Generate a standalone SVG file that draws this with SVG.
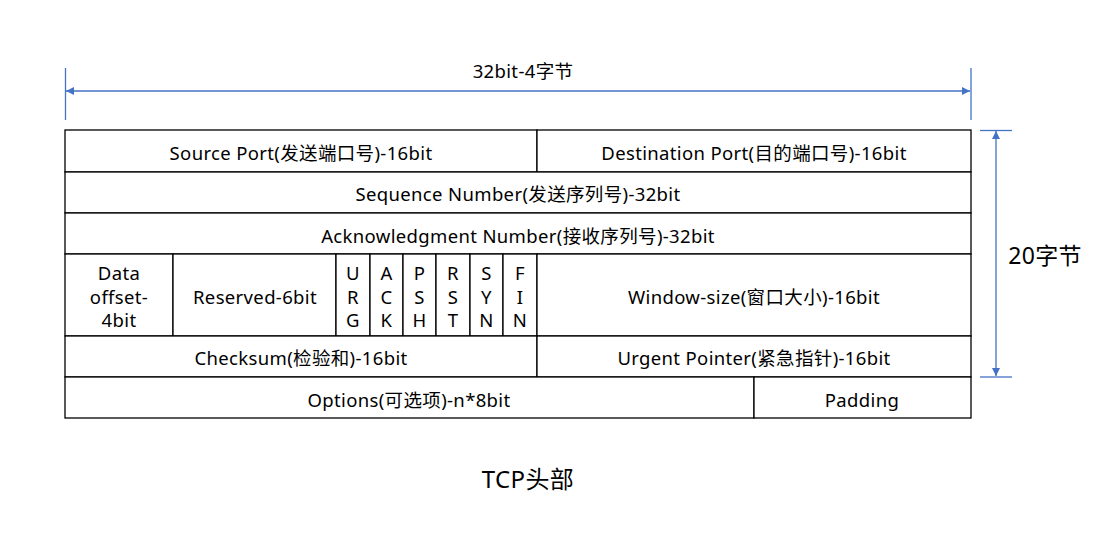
<svg xmlns="http://www.w3.org/2000/svg" width="1117" height="543" viewBox="0 0 1117 543">
<style>
text{font-family:"Noto Sans","Noto Sans CJK SC",sans-serif;font-size:18.5px;letter-spacing:0.35px;fill:#000;text-anchor:middle;dominant-baseline:central}
.cell{fill:#fff;stroke:#000;stroke-width:1.3}
.dim{stroke:#4472C4;stroke-width:1.3;fill:none}
</style>
<defs>
<marker id="ah" viewBox="0 0 10 10" refX="10" refY="5" markerWidth="8" markerHeight="8" orient="auto-start-reverse" markerUnits="userSpaceOnUse"><path d="M0,0 L10,5 L0,10 Z" fill="#4472C4"/></marker>
</defs>
<g id="connectors">
<line class="dim" x1="65.5" y1="68" x2="65.5" y2="120"/>
<line class="dim" x1="971" y1="68" x2="971" y2="120"/>
<line class="dim" x1="66" y1="91" x2="970" y2="91" marker-start="url(#ah)" marker-end="url(#ah)"/>
<line class="dim" x1="980" y1="130.5" x2="1012" y2="130.5"/>
<line class="dim" x1="980" y1="377" x2="1012" y2="377"/>
<line class="dim" x1="996" y1="131" x2="996" y2="376" marker-start="url(#ah)" marker-end="url(#ah)"/>
</g>
<g id="label-width"><text x="523" y="70">32bit-4字节</text></g>
<g id="label-height"><text x="1045" y="255" style="font-size:23px">20字节</text></g>
<g id="source-port"><rect class="cell" x="65" y="130" width="472" height="42"/><text x="301" y="152">Source Port(发送端口号)-16bit</text></g>
<g id="dest-port"><rect class="cell" x="537" y="130" width="434" height="42"/><text x="754" y="152">Destination Port(目的端口号)-16bit</text></g>
<g id="seq"><rect class="cell" x="65" y="172" width="906" height="41"/><text x="518" y="193">Sequence Number(发送序列号)-32bit</text></g>
<g id="ack"><rect class="cell" x="65" y="213" width="906" height="41"/><text x="518" y="235">Acknowledgment Number(接收序列号)-32bit</text></g>
<g id="data-offset"><rect class="cell" x="65" y="254" width="108" height="82"/><text x="119" y="272">Data</text><text x="119" y="296">offset-</text><text x="119" y="319">4bit</text></g>
<g id="reserved"><rect class="cell" x="173" y="254" width="163" height="82"/><text x="255" y="296">Reserved-6bit</text></g>
<g id="urg"><rect class="cell" x="336" y="254" width="34" height="82"/><text x="353" y="272">U</text><text x="353" y="296">R</text><text x="353" y="319">G</text></g>
<g id="ackf"><rect class="cell" x="370" y="254" width="33" height="82"/><text x="386.5" y="272">A</text><text x="386.5" y="296">C</text><text x="386.5" y="319">K</text></g>
<g id="psh"><rect class="cell" x="403" y="254" width="33" height="82"/><text x="419.5" y="272">P</text><text x="419.5" y="296">S</text><text x="419.5" y="319">H</text></g>
<g id="rst"><rect class="cell" x="436" y="254" width="34" height="82"/><text x="453" y="272">R</text><text x="453" y="296">S</text><text x="453" y="319">T</text></g>
<g id="syn"><rect class="cell" x="470" y="254" width="33" height="82"/><text x="486.5" y="272">S</text><text x="486.5" y="296">Y</text><text x="486.5" y="319">N</text></g>
<g id="fin"><rect class="cell" x="503" y="254" width="34" height="82"/><text x="520" y="272">F</text><text x="520" y="296">I</text><text x="520" y="319">N</text></g>
<g id="window"><rect class="cell" x="537" y="254" width="434" height="82"/><text x="754" y="296">Window-size(窗口大小)-16bit</text></g>
<g id="checksum"><rect class="cell" x="65" y="336" width="472" height="41"/><text x="301" y="357">Checksum(检验和)-16bit</text></g>
<g id="urgent"><rect class="cell" x="537" y="336" width="434" height="41"/><text x="754" y="357">Urgent Pointer(紧急指针)-16bit</text></g>
<g id="options"><rect class="cell" x="65" y="377" width="689" height="41"/><text x="409" y="399">Options(可选项)-n*8bit</text></g>
<g id="padding"><rect class="cell" x="754" y="377" width="217" height="41"/><text x="862" y="399">Padding</text></g>
<g id="caption"><text x="528" y="478" style="font-size:24px">TCP头部</text></g>
</svg>
